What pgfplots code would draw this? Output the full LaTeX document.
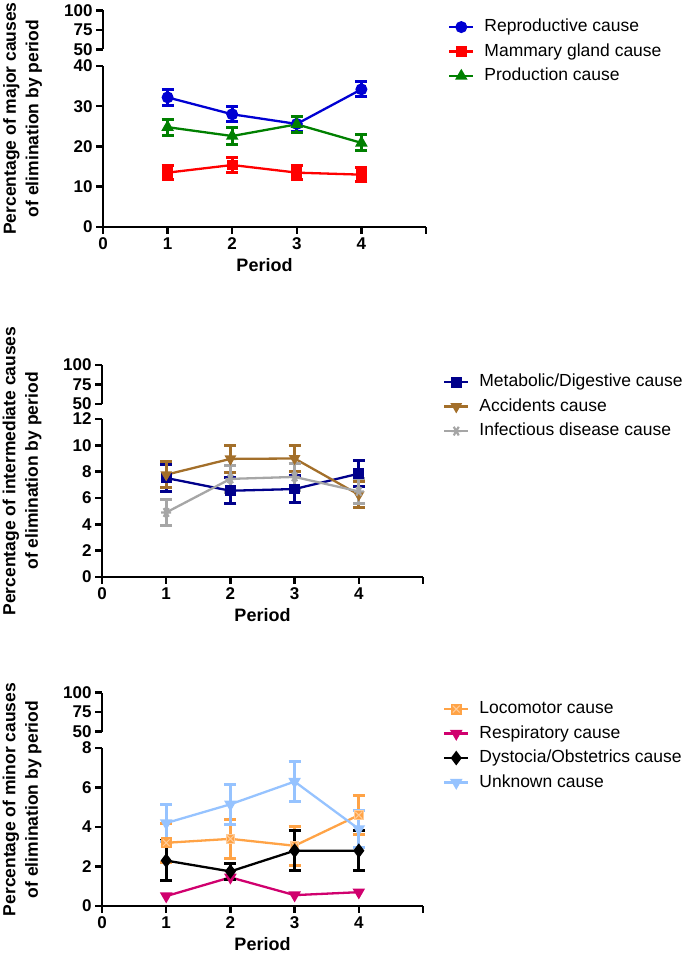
\documentclass[border=0pt]{standalone}
\usepackage{fontspec}
\setmainfont{Liberation Sans}
\usepackage{pgfplots}
\pgfplotsset{compat=1.18}
\definecolor{cRep}{RGB}{0,0,210}
\definecolor{cMam}{RGB}{255,0,0}
\definecolor{cPro}{RGB}{0,128,0}
\definecolor{cMet}{RGB}{0,0,139}
\definecolor{cAcc}{RGB}{163,111,42}
\definecolor{cInf}{RGB}{166,166,166}
\definecolor{cLoc}{RGB}{255,163,70}
\definecolor{cRes}{RGB}{208,0,110}
\definecolor{cDys}{RGB}{0,0,0}
\definecolor{cUnk}{RGB}{150,195,255}
\pgfdeclareplotmark{sqx}{%
  \pgfpathrectangle{\pgfpoint{-\pgfplotmarksize}{-\pgfplotmarksize}}{\pgfpoint{2\pgfplotmarksize}{2\pgfplotmarksize}}%
  \pgfusepathqfillstroke
  \pgfsetlinewidth{1pt}%
  \pgfsetstrokecolor{white!45!cLoc}%
  \pgfpathmoveto{\pgfpoint{-0.8\pgfplotmarksize}{-0.8\pgfplotmarksize}}%
  \pgfpathlineto{\pgfpoint{0.8\pgfplotmarksize}{0.8\pgfplotmarksize}}%
  \pgfpathmoveto{\pgfpoint{-0.8\pgfplotmarksize}{0.8\pgfplotmarksize}}%
  \pgfpathlineto{\pgfpoint{0.8\pgfplotmarksize}{-0.8\pgfplotmarksize}}%
  \pgfusepathqstroke}
\pgfplotsset{
  base/.style={scale only axis, xmin=0, xmax=5, clip=false,
    axis line style={line width=2.5pt},
    every tick/.style={line width=2.5pt, black},
    major tick length=7pt,
    tick label style={font=\bfseries\fontsize{17}{19}\selectfont},
    /pgf/number format/assume math mode=true},
  upper/.style={base, axis y line*=left, axis x line=none, ymin=50, ymax=100,
    ytick={50,75,100}, xtick=\empty, height=39pt, tick align=outside},
  lower/.style={base, axis y line*=left, axis x line*=bottom, ymin=0,
    xtick={0,...,5}, xticklabels={0,1,2,3,4,{}}, tick align=outside,
    xlabel={Period},
    xlabel style={font=\bfseries\fontsize{18}{20}\selectfont, at={(axis description cs:0.5,0)}, anchor=center, yshift=-38pt},
    legend cell align=left,
    legend image code/.code={\draw[mark repeat=2,mark phase=2,##1] plot coordinates {(0pt,0pt) (12pt,0pt) (24pt,0pt)};},
    legend style={draw=none, fill=none, anchor=north west,
      font=\fontsize{17.5}{20}\selectfont, inner sep=0pt, row sep=4.5pt,
      nodes={inner sep=2pt, text height=12.5pt, text depth=3.5pt},
      /tikz/every odd column/.append style={column sep=8pt}}},
  ebar/.style={/pgfplots/error bars/y dir=both, /pgfplots/error bars/y explicit,
    /pgfplots/error bars/error bar style={line width=3pt, solid},
    /pgfplots/error bars/error mark options={rotate=90, mark size=6pt, line width=3pt, solid}},
  ser/.style={line width=2.3pt, mark options={solid}},
}
\begin{document}
\begin{tikzpicture}
\path[use as bounding box] (0,0) rectangle (685pt,957pt);
% ---------------- Panel 1 ----------------
\begin{axis}[upper, at={(103pt,907.7pt)}, anchor=south west, width=323pt]
\end{axis}
\begin{axis}[lower, at={(103pt,730pt)}, anchor=south west, width=323pt, height=161pt,
  ymax=40, ytick={0,10,20,30,40},
  legend style={at={(axis description cs:1.068,1.305)}}]
\addplot[color=cRep, ser, mark=*, mark size=4.8pt, ebar]
  table[row sep=\\, y error=e]{x y e\\ 1 32.2 1.9\\ 2 28.0 1.9\\ 3 25.6 1.9\\ 4 34.2 1.9\\};
\addlegendentry{Reproductive cause}
\addplot[color=cMam, ser, mark=square*, mark size=4.3pt, ebar]
  table[row sep=\\, y error=e]{x y e\\ 1 13.5 1.8\\ 2 15.4 1.8\\ 3 13.5 1.8\\ 4 13.0 1.8\\};
\addlegendentry{Mammary gland cause}
\addplot[color=cPro, ser, mark=triangle*, mark size=5pt, ebar]
  table[row sep=\\, y error=e]{x y e\\ 1 24.8 2.0\\ 2 22.6 2.0\\ 3 25.5 2.0\\ 4 20.9 2.0\\};
\addlegendentry{Production cause}
\end{axis}
\node[rotate=90, align=center, font=\bfseries\fontsize{17.5}{22.5}\selectfont] at (22.5pt,838.5pt)
  {Percentage of major causes\\of elimination by period};
% ---------------- Panel 2 ----------------
\begin{axis}[upper, at={(102pt,553pt)}, anchor=south west, width=321pt]
\end{axis}
\begin{axis}[lower, at={(102pt,380pt)}, anchor=south west, width=321pt, height=158pt,
  ymax=12, ytick={0,2,...,12},
  legend style={at={(axis description cs:1.062,1.298)}}]
\addplot[color=cMet, ser, mark=square*, mark size=4.3pt, ebar]
  table[row sep=\\, y error=e]{x y e\\ 1 7.52 1.0\\ 2 6.55 1.0\\ 3 6.68 1.0\\ 4 7.85 1.0\\};
\addlegendentry{Metabolic/Digestive cause}
\addplot[color=cAcc, ser, mark=triangle*, mark size=4.5pt, mark options={rotate=180}, ebar]
  table[row sep=\\, y error=e]{x y e\\ 1 7.77 1.0\\ 2 8.97 1.0\\ 3 9.0 1.0\\ 4 6.25 1.0\\};
\addlegendentry{Accidents cause}
\addplot[color=cInf, ser, mark=asterisk, mark size=5pt, mark options={rotate=90, line width=2.2pt}, ebar]
  table[row sep=\\, y error=e]{x y e\\ 1 4.9 1.0\\ 2 7.45 1.0\\ 3 7.6 1.0\\ 4 6.5 0.95\\};
\addlegendentry{Infectious disease cause}
\end{axis}
\node[rotate=90, align=center, font=\bfseries\fontsize{17.5}{22.5}\selectfont] at (22pt,486pt)
  {Percentage of intermediate causes\\of elimination by period};
% ---------------- Panel 3 ----------------
\begin{axis}[upper, at={(102pt,225.3pt)}, anchor=south west, width=321pt]
\end{axis}
\begin{axis}[lower, at={(102pt,51pt)}, anchor=south west, width=321pt, height=158pt,
  ymax=8, ytick={0,2,...,8},
  legend style={at={(axis description cs:1.062,1.311)}}]
\addplot[color=cLoc, ser, mark=sqx, mark size=4.3pt, ebar]
  table[row sep=\\, y error=e]{x y e\\ 1 3.2 1.0\\ 2 3.4 1.0\\ 3 3.05 1.0\\ 4 4.6 1.0\\};
\addlegendentry{Locomotor cause}
\addplot[color=cRes, ser, mark=triangle*, mark size=5pt, mark options={rotate=180}]
  table[row sep=\\]{x y\\ 1 0.5\\ 2 1.45\\ 3 0.55\\ 4 0.7\\};
\addlegendentry{Respiratory cause}
\addplot[color=cDys, ser, mark=diamond*, mark size=5.5pt, ebar]
  table[row sep=\\, y error=e]{x y e\\ 1 2.3 1.0\\ 2 1.75 0.4\\ 3 2.8 1.0\\ 4 2.8 1.0\\};
\addlegendentry{Dystocia/Obstetrics cause}
\addplot[color=cUnk, ser, mark=triangle*, mark size=5pt, mark options={rotate=180}, ebar]
  table[row sep=\\, y error=e]{x y e\\ 1 4.2 0.95\\ 2 5.15 1.0\\ 3 6.3 1.0\\ 4 3.9 0.95\\};
\addlegendentry{Unknown cause}
\end{axis}
\node[rotate=90, align=center, font=\bfseries\fontsize{17.5}{22.5}\selectfont] at (22pt,157.5pt)
  {Percentage of minor causes\\of elimination by period};
\end{tikzpicture}
\end{document}
